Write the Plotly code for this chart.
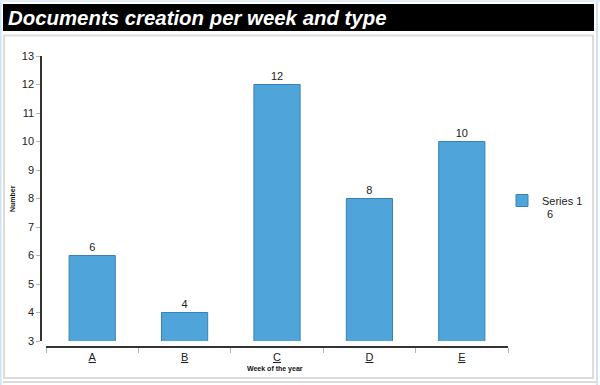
import plotly.graph_objects as go

categories = ["A", "B", "C", "D", "E"]
values = [6, 4, 12, 8, 10]
series_name = "Series 1"
legend_extra = "6"
title_text = "Documents creation per week and type"
x_title = "Week of the year"
y_title = "Number"
y_ticks = list(range(3, 14))

W, H = 600, 385


def px2x(px):
    return px / W


def px2y(py):
    return 1 - py / H


bar_color = "#4fa5da"
font = "Liberation Sans, Arial, sans-serif"

fig = go.Figure()
fig.add_trace(go.Bar(
    x=categories, y=values, name=series_name,
    marker=dict(color=bar_color, line=dict(color="#3a80b5", width=1)),
    width=0.5,
    text=[str(v) for v in values], textposition="outside",
    textfont=dict(family=font, size=11, color="#222"),
    cliponaxis=False,
    showlegend=True,
))

shapes = [
    dict(type="line", xref="paper", yref="paper", x0=px2x(0.5), x1=px2x(0.5), y0=0, y1=1,
         line=dict(color="#cfe3f5", width=2), layer="below"),
    dict(type="line", xref="paper", yref="paper", x0=px2x(597), x1=px2x(597), y0=0, y1=1,
         line=dict(color="#cfe3f5", width=2), layer="below"),
    dict(type="line", xref="paper", yref="paper", x0=0, x1=1, y0=px2y(1), y1=px2y(1),
         line=dict(color="#e3eef8", width=2), layer="below"),
    dict(type="rect", xref="paper", yref="paper", x0=px2x(3), x1=px2x(594), y0=px2y(4), y1=px2y(31),
         fillcolor="black", line=dict(width=0), layer="below"),
    dict(type="rect", xref="paper", yref="paper", x0=px2x(4), x1=px2x(593), y0=px2y(35.5), y1=px2y(378),
         fillcolor="white", line=dict(color="#dcdcdc", width=2), layer="below"),
    dict(type="line", xref="paper", yref="paper", x0=px2x(3), x1=px2x(597), y0=px2y(382), y1=px2y(382),
         line=dict(color="#dcdcdc", width=2), layer="below"),
]

annotations = [
    dict(text="<b><i>" + title_text + "</i></b>", xref="paper", yref="paper",
         x=px2x(6), y=px2y(18), xanchor="left", yanchor="middle", showarrow=False,
         font=dict(family=font, size=20.4, color="white")),
    dict(text="<b>" + x_title + "</b>", xref="paper", yref="paper",
         x=px2x(275), y=px2y(369), xanchor="center", yanchor="middle", showarrow=False,
         font=dict(family=font, size=7, color="#111")),
    dict(text="<b>" + y_title + "</b>", xref="paper", yref="paper", textangle=-90,
         x=px2x(13), y=px2y(199), xanchor="center", yanchor="middle", showarrow=False,
         font=dict(family=font, size=7, color="#111")),
    dict(text=legend_extra, xref="paper", yref="paper",
         x=px2x(545), y=px2y(214), xanchor="left", yanchor="middle", showarrow=False,
         font=dict(family=font, size=11, color="#222")),
]

fig.update_layout(
    width=W, height=H,
    margin=dict(l=0, r=0, t=0, b=0, pad=0, autoexpand=False),
    paper_bgcolor="white", plot_bgcolor="rgba(0,0,0,0)",
    font=dict(family=font, size=11, color="#222"),
    shapes=shapes, annotations=annotations,
    xaxis=dict(
        domain=[px2x(46), px2x(508)], anchor="free", position=px2y(347),
        range=[-0.5, 4.5], tickmode="array", tickvals=list(range(5)),
        ticktext=["<u>" + c + "</u>" for c in categories],
        tickson="boundaries", ticks="outside", ticklen=5, tickcolor="#b3b3b3",
        showline=True, linecolor="#333", linewidth=1.5, showgrid=False,
        tickfont=dict(family=font, size=11, color="#222"), zeroline=False,
        automargin=False,
    ),
    yaxis=dict(
        domain=[px2y(341), px2y(56)], anchor="free", position=px2x(41),
        range=[3, 13], tickvals=y_ticks,
        ticks="outside", ticklen=4, tickcolor="#b3b3b3", ticklabelstandoff=0,
        showline=True, linecolor="#333", linewidth=1.5, showgrid=False, zeroline=False,
        tickfont=dict(family=font, size=11, color="#222"),
        automargin=False,
    ),
    legend=dict(x=px2x(502), y=px2y(186), xanchor="left", yanchor="top",
                bgcolor="rgba(0,0,0,0)", font=dict(family=font, size=11, color="#222"),
                itemwidth=30),
)

fig.write_html("out.html", config={"displayModeBar": False},
               post_script="document.body.style.margin='0';")
